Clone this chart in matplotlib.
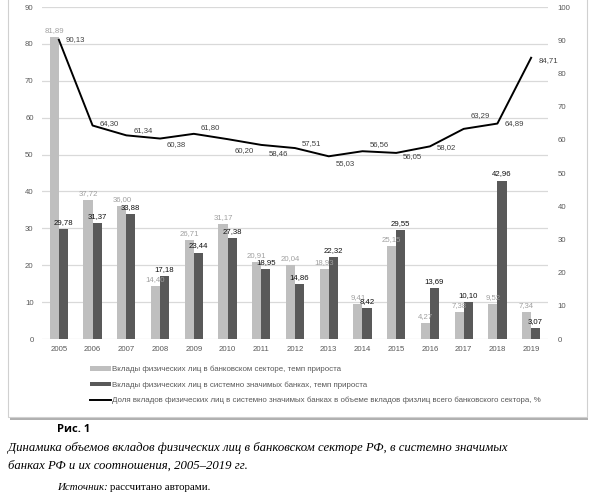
import numpy as np
import matplotlib
matplotlib.use("Agg")
import matplotlib.pyplot as plt
from matplotlib.patches import Rectangle, Patch
from matplotlib.lines import Line2D

years = [str(y) for y in range(2005, 2020)]
growth_sector = [81.89, 37.72, 36.00, 14.40, 26.71, 31.17, 20.91, 20.04,
                 18.93, 9.41, 25.15, 4.27, 7.38, 9.52, 7.34]
growth_sib = [29.78, 31.37, 33.88, 17.18, 23.44, 27.38, 18.95, 14.86,
              22.32, 8.42, 29.55, 13.69, 10.10, 42.96, 3.07]
share_sib = [90.13, 64.30, 61.34, 60.38, 61.80, 60.20, 58.46, 57.51,
             55.03, 56.56, 56.05, 58.02, 63.29, 64.89, 84.71]

legend_labels = [
    "Вклады физических лиц в банковском секторе, темп прироста",
    "Вклады физических лиц в системно значимых банках, темп прироста",
    "Доля вкладов физических лиц в системно значимых банках в объеме вкладов физлиц всего банковского сектора, %",
]

# vertical nudge (pixels) of each line label, Excel-style placement
line_dy = [0, 1.5, 5, -6.5, 6, -11, -9, 5, -7, 7, -4, -1, 13, 0, -3]

LIGHT = "#bfbfbf"
DARK = "#595959"
GRID = "#d9d9d9"
TICK = "#595959"
FS = 5.6

plt.rcParams.update({
    "font.family": ["Liberation Sans", "DejaVu Sans"],
    "font.size": FS,
})

W, H = 595, 497
fig = plt.figure(figsize=(W / 100, H / 100), dpi=100)
fig.patch.set_facecolor("white")

# chart frame with a soft shadow
shadow = Rectangle((10 / W, 1 - 420 / H), 578 / W, 420 / H, transform=fig.transFigure,
                   facecolor="#b0b0b0", edgecolor="none", zorder=-3)
frame = Rectangle((8 / W, 1 - 417 / H), 579 / W, 420 / H, transform=fig.transFigure,
                  facecolor="white", edgecolor="#d0d0d0", linewidth=0.8, zorder=-2)
fig.add_artist(shadow)
fig.add_artist(frame)

left, right, top, bottom = 42, 548, 7, 339
ax = fig.add_axes([left / W, 1 - bottom / H, (right - left) / W, (bottom - top) / H])
ax.patch.set_visible(False)
x = np.arange(len(years))
bw = 0.27

ax.bar(x - bw / 2, growth_sector, bw, color=LIGHT, zorder=2)
ax.bar(x + bw / 2, growth_sib, bw, color=DARK, zorder=2)

for xi, v in zip(x, growth_sector):
    ax.annotate(f"{v:.2f}".replace(".", ","), (xi - bw / 2, v), xytext=(0, 3),
                textcoords="offset pixels", ha="center", va="bottom",
                color="#a0a0a0", fontsize=FS, zorder=4)
for xi, v in zip(x, growth_sib):
    ax.annotate(f"{v:.2f}".replace(".", ","), (xi + bw / 2, v), xytext=(0, 3),
                textcoords="offset pixels", ha="center", va="bottom",
                color="#111111", fontsize=FS, zorder=4)

ax.set_ylim(0, 90)
ax.set_yticks(range(0, 91, 10))
ax.set_xlim(-0.5, len(years) - 0.5)
ax.set_xticks(x)
ax.set_xticklabels(years)
ax.grid(axis="y", color=GRID, linewidth=0.9, zorder=0)
ax.set_axisbelow(True)
for s in ax.spines.values():
    s.set_visible(False)
ax.tick_params(length=0, colors=TICK, labelsize=FS)
ax.tick_params(axis="x", pad=5)
ax.tick_params(axis="y", pad=6)

ax2 = ax.twinx()
ax2.patch.set_visible(False)
ax2.plot(x, share_sib, color="black", linewidth=1.4, zorder=3)
for xi, v, dy in zip(x, share_sib, line_dy):
    ax2.annotate(f"{v:.2f}".replace(".", ","), (xi, v), xytext=(7, dy),
                 textcoords="offset pixels", ha="left", va="center",
                 color="#404040", fontsize=FS)
ax2.set_ylim(0, 100)
ax2.set_yticks(range(0, 101, 10))
for s in ax2.spines.values():
    s.set_visible(False)
ax2.tick_params(length=0, colors=TICK, labelsize=FS, pad=7)

handles = [Patch(facecolor=LIGHT, edgecolor="none"),
           Patch(facecolor=DARK, edgecolor="none"),
           Line2D([0], [0], color="black", linewidth=1.4)]
fig.legend(handles, legend_labels, loc="upper left",
           bbox_to_anchor=(90 / W, 1 - 366 / H), frameon=False, fontsize=5.7,
           labelcolor="#595959", handlelength=2.6, handleheight=0.55,
           handletextpad=0.15, labelspacing=1.0, borderpad=0, borderaxespad=0)

fig.text(57 / W, 1 - 429 / H, "Рис. 1", fontsize=8, fontweight="bold",
         va="center", ha="left", family=["Open Sans", "DejaVu Sans"])
fig.text(8 / W, 1 - 448 / H,
         "Динамика объемов вкладов физических лиц в банковском секторе РФ, в системно значимых",
         fontsize=9.2, style="italic", va="center", ha="left",
         family=["Liberation Serif", "DejaVu Serif"])
fig.text(8 / W, 1 - 466 / H, "банках РФ и их соотношения, 2005–2019 гг.",
         fontsize=9.2, style="italic", va="center", ha="left",
         family=["Liberation Serif", "DejaVu Serif"])

src = fig.text(57 / W, 1 - 487 / H, "Источник: ", fontsize=7.8, style="italic",
               va="center", ha="left", family=["Liberation Serif", "DejaVu Serif"])
fig.canvas.draw()
bb = src.get_window_extent()
fig.text(bb.x1 / W, 1 - 487 / H, "рассчитано авторами.", fontsize=7.8,
         va="center", ha="left", family=["Liberation Serif", "DejaVu Serif"])

fig.savefig("out.png", dpi=100)
